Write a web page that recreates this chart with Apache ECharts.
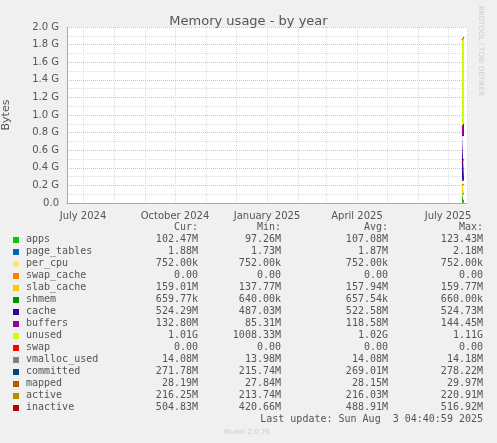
<!DOCTYPE html>
<html>
<head>
<meta charset="utf-8">
<title>Memory usage - by year</title>
<script src="https://cdn.jsdelivr.net/npm/echarts@6/dist/echarts.min.js"></script>
<style>
  html, body {margin:0;padding:0;background:#f0f0f0;}
  #chart {width:497px;height:443px;}
</style>
</head>
<body>
<div id="chart"></div>
<script>
// sample times (only the last days of the year carry data)
const times = ['2025-07-15', '2025-07-16', '2025-07-17'];

// stacked areas, bytes in M
const names = ['apps','page_tables','per_cpu','swap_cache','slab_cache','shmem','cache','buffers','unused','swap',
               'vmalloc_used','committed','mapped','active','inactive'];
const colors = ['#00cc00','#0066b3','#ffe680','#ff8000','#ffcc00','#008f00','#330099','#990099','#ccff00','#ff0000',
                '#808080','#00487d','#b35a00','#b38f00','#b30000'];
const isStack = [1,1,1,1,1,1,1,1,1,1,0,0,0,0,0];
const values = [
  [110.5, 100.0, 102.47],
  [1.8, 1.9, 1.88],
  [0.752, 0.752, 0.752],
  [0, 0, 0],
  [156.0, 158.0, 159.01],
  [0.66, 0.66, 0.66],
  [510.0, 522.0, 524.29],
  [110.0, 120.0, 132.80],
  [1010.0, 1015.0, 1010.0],
  [0, 0, 0],
  [14.1, 14.1, 14.08],
  [260.0, 275.0, 271.78],
  [28.0, 28.5, 28.19],
  [215.0, 218.0, 216.25],
  [470.0, 500.0, 504.83]
];
const cur = ['102.47M','1.88M','752.00k','0.00','159.01M','659.77k','524.29M','132.80M','1.01G','0.00','14.08M','271.78M','28.19M','216.25M','504.83M'];
const mins = ['97.26M','1.73M','752.00k','0.00','137.77M','640.00k','487.03M','85.31M','1008.33M','0.00','13.98M','215.74M','27.84M','213.74M','420.66M'];
const avgs = ['107.08M','1.87M','752.00k','0.00','157.94M','657.54k','522.58M','118.58M','1.02G','0.00','14.08M','269.01M','28.15M','216.03M','488.91M'];
const maxs = ['123.43M','2.18M','752.00k','0.00','159.77M','660.00k','524.73M','144.45M','1.11G','0.00','14.18M','278.22M','29.97M','220.91M','516.92M'];
const yTicks = ['0.0','0.2 G','0.4 G','0.6 G','0.8 G','1.0 G','1.2 G','1.4 G','1.6 G','1.8 G','2.0 G'];
const monthNames = ['January','February','March','April','May','June','July','August','September','October','November','December'];

const G = 1024 * 1024 * 1024, M = 1024 * 1024;
const mono = 'DejaVu Sans Mono';

const series = names.map(function (n, i) {
  return {
    name: n, type: 'line', showSymbol: false, silent: true,
    stack: isStack[i] ? 'mem' : undefined,
    areaStyle: isStack[i] ? {color: colors[i], opacity: 1} : undefined,
    lineStyle: {color: colors[i], width: 1},
    itemStyle: {color: colors[i]},
    data: times.map(function (t, k) { return [t, values[i][k] * M]; })
  };
});

// legend table as text
const graphics = [];
const rowY = 228, dy = 12;
[['Cur:',198],['Min:',281],['Avg:',388],['Max:',483]].forEach(function (h) {
  graphics.push({type:'text', right: 497 - h[1], top: rowY - 6, style:{text:h[0], font:'10px ' + mono, fill:'#555'}});
});
names.forEach(function (n, i) {
  const y = rowY + dy * (i + 1);
  graphics.push({type:'rect', shape:{x:13, y:y - 3, width:6, height:6}, style:{fill:colors[i]}});
  graphics.push({type:'text', left:26, top:y - 6, style:{text:n, font:'10px ' + mono, fill:'#555'}});
  [[cur,198],[mins,281],[avgs,388],[maxs,483]].forEach(function (c) {
    graphics.push({type:'text', right: 497 - c[1], top: y - 6, style:{text:c[0][i], font:'10px ' + mono, fill:'#555'}});
  });
});
graphics.push({type:'text', right:14, top:414, style:{text:'Last update: Sun Aug  3 04:40:59 2025', font:'10px ' + mono, fill:'#555'}});
graphics.push({type:'text', left:224, top:429, style:{text:'Munin 2.0.76', font:'7px DejaVu Sans', fill:'#ccc'}});
graphics.push({type:'text', x:484, y:6, rotation:-Math.PI / 2, style:{text:'RRDTOOL / TOBI OETIKER', font:'7px DejaVu Sans', fill:'#ccc'}});

const chart = echarts.init(document.getElementById('chart'));
chart.setOption({
  backgroundColor: '#f0f0f0',
  animation: false,
  title: {text: 'Memory usage - by year', left: 'center', top: 10,
          textStyle: {fontFamily: 'DejaVu Sans', fontSize: 13, fontWeight: 'normal', color: '#555'}},
  grid: {left: 67, right: 30, top: 27, bottom: 240, backgroundColor: '#fff', show: true, borderWidth: 0,
         outerBoundsMode: 'none', containLabel: false},
  xAxis: {
    type: 'time', min: '2024-06-15', max: '2025-07-20', splitNumber: 14,
    axisLine: {lineStyle: {color: '#aaa'}}, axisTick: {show: false},
    splitLine: {show: true, lineStyle: {color: '#ddd', type: 'dotted'}},
    axisLabel: {
      color: '#555', fontFamily: 'DejaVu Sans', fontSize: 10, hideOverlap: false,
      formatter: function (v) {
        const d = new Date(v);
        if (d.getDate() !== 1 || d.getMonth() % 3 !== 0) return '';
        return monthNames[d.getMonth()] + ' ' + d.getFullYear();
      }
    }
  },
  yAxis: {
    type: 'value', min: 0, max: 2 * G, interval: 0.2 * G,
    name: 'Bytes', nameLocation: 'middle', nameGap: 55,
    nameTextStyle: {color: '#555', fontFamily: 'DejaVu Sans', fontSize: 11},
    axisLine: {show: true, lineStyle: {color: '#aaa'}}, axisTick: {show: false},
    splitLine: {lineStyle: {color: '#e8b8b8', type: 'dotted'}},
    minorTick: {show: false, splitNumber: 2},
    minorSplitLine: {show: true, lineStyle: {color: '#ddd', type: 'dotted'}},
    axisLabel: {color: '#555', fontFamily: 'DejaVu Sans', fontSize: 10,
      formatter: function (v) { return yTicks[Math.round(v / (0.2 * G))]; }}
  },
  series: series,
  graphic: graphics
});
</script>
</body>
</html>
